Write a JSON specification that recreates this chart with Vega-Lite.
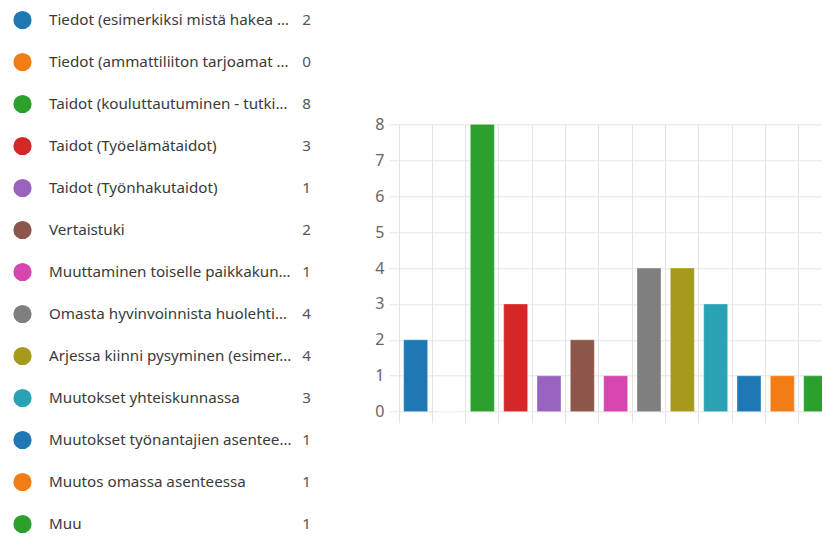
{
  "$schema": "https://vega.github.io/schema/vega-lite/v6.json",
  "padding": 0,
  "background": "white",
  "config": {"view": {"stroke": null}, "font": "Noto Sans"},
  "data": {"values": [
    {"item": "Tiedot (esimerkiksi mistä hakea …", "count": 2},
    {"item": "Tiedot (ammattiliiton tarjoamat …", "count": 0},
    {"item": "Taidot (kouluttautuminen - tutki…", "count": 8},
    {"item": "Taidot (Työelämätaidot)", "count": 3},
    {"item": "Taidot (Työnhakutaidot)", "count": 1},
    {"item": "Vertaistuki", "count": 2},
    {"item": "Muuttaminen toiselle paikkakun…", "count": 1},
    {"item": "Omasta hyvinvoinnista huolehti…", "count": 4},
    {"item": "Arjessa kiinni pysyminen (esimer…", "count": 4},
    {"item": "Muutokset yhteiskunnassa", "count": 3},
    {"item": "Muutokset työnantajien asentee…", "count": 1},
    {"item": "Muutos omassa asenteessa", "count": 1},
    {"item": "Muu", "count": 1}
  ]},
  "spacing": 69,
  "bounds": "flush",
  "center": true,
  "resolve": {"scale": {"color": "shared"}},
  "hconcat": [
    {
      "width": 330,
      "height": 536,
      "encoding": {
        "y": {"field": "item", "type": "nominal", "sort": null, "axis": null,
              "scale": {"type": "point", "padding": 0, "range": [20, 524]}}
      },
      "layer": [
        {
          "mark": {"type": "point", "filled": true, "opacity": 1, "size": 333, "shape": "circle"},
          "encoding": {
            "x": {"value": 22.5},
            "color": {"field": "item", "type": "nominal", "sort": null, "legend": null,
              "scale": {"range": ["#1f77b4", "#f47c14", "#2ca02c", "#d62728", "#9763bf", "#8c564b", "#d646ae", "#7f7f7f", "#a59a1e", "#29a3b3", "#1f77b4", "#f47c14", "#2ca02c"]}}
          }
        },
        {
          "mark": {"type": "text", "align": "left", "baseline": "middle", "fontSize": 15.2, "color": "#3a3a3a"},
          "encoding": {"x": {"value": 49}, "text": {"field": "item"}}
        },
        {
          "mark": {"type": "text", "align": "right", "baseline": "middle", "fontSize": 15.2, "color": "#555555"},
          "encoding": {"x": {"value": 311}, "text": {"field": "count"}}
        }
      ]
    },
    {
      "width": 423,
      "height": 287.4,
      "mark": {"type": "bar", "clip": true, "width": {"band": 0.72}, "stroke": "white", "strokeOpacity": 0.35, "strokeWidth": 1},
      "encoding": {
        "x": {"field": "item", "type": "nominal", "sort": null,
              "scale": {"paddingInner": 0, "paddingOuter": 0, "range": [0, 433.33]},
              "axis": {"title": null, "labels": false, "domain": false, "ticks": true, "tickSize": 11,
                       "tickColor": "#e4e4e4", "grid": true, "gridColor": "#e4e4e4", "bandPosition": 0}},
        "y": {"field": "count", "type": "quantitative",
              "scale": {"domain": [0, 8], "nice": false},
              "axis": {"title": null, "values": [0, 1, 2, 3, 4, 5, 6, 7, 8], "domain": false,
                       "tickSize": 10, "tickColor": "#e4e4e4", "gridColor": "#e4e4e4",
                       "labelFontSize": 16, "labelColor": "#666666", "labelPadding": 5}},
        "color": {"field": "item", "type": "nominal", "sort": null, "legend": null,
          "scale": {"range": ["#1f77b4", "#f47c14", "#2ca02c", "#d62728", "#9763bf", "#8c564b", "#d646ae", "#7f7f7f", "#a59a1e", "#29a3b3", "#1f77b4", "#f47c14", "#2ca02c"]}}
      }
    }
  ]
}
